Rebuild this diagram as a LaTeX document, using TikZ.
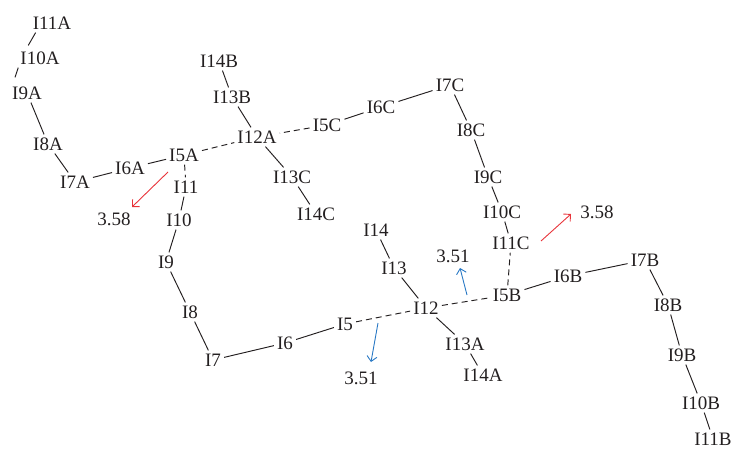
\documentclass[tikz,border=0pt]{standalone}
\usepackage{fontspec}
\setmainfont{Liberation Serif}
\usetikzlibrary{arrows.meta}
\definecolor{txt}{RGB}{35,31,32}
\definecolor{redarr}{RGB}{232,52,58}
\definecolor{bluearr}{RGB}{40,120,196}
\begin{document}
\begin{tikzpicture}[x=1pt,y=-1pt,
  lbl/.style={inner sep=3pt,text=txt,font=\fontsize{19}{22}\selectfont,text height=12.8pt,text depth=0pt},
  bond/.style={draw=txt,line width=0.95pt},
  dbond/.style={bond,dash pattern=on 6pt off 4pt},
  redarrow/.style={draw=redarr,line width=0.9pt,-{Straight Barb[length=5pt,width=10pt]}},
  bluearrow/.style={draw=bluearr,line width=0.9pt,-{Straight Barb[length=5pt,width=10pt]}}]
\useasboundingbox (0,0) rectangle (733,449);
% A branch
\node[lbl] (I11A) at (52,23) {I11A};
\node[lbl] (I10A) at (40,58) {I10A};
\node[lbl] (I9A) at (27,93) {I9A};
\node[lbl] (I8A) at (48,144) {I8A};
\node[lbl] (I7A) at (75,182) {I7A};
\node[lbl] (I6A) at (130,168) {I6A};
\node[lbl] (I5A) at (184,155) {I5A};
% main ring
\node[lbl] (I11) at (186,187) {I11};
\node[lbl] (I10) at (179,220) {I10};
\node[lbl] (I9) at (166,262) {I9};
\node[lbl] (I8) at (190,312) {I8};
\node[lbl] (I7) at (213,360) {I7};
\node[lbl] (I6) at (285,343) {I6};
\node[lbl] (I5) at (345,324) {I5};
\node[lbl] (I12) at (426,308) {I12};
\node[lbl] (I13) at (394,268) {I13};
\node[lbl] (I14) at (376,230) {I14};
\node[lbl] (I13A) at (465,344) {I13A};
\node[lbl] (I14A) at (483,375) {I14A};
% B branch
\node[lbl] (I5B) at (507,295) {I5B};
\node[lbl] (I6B) at (568,276) {I6B};
\node[lbl] (I7B) at (645,260) {I7B};
\node[lbl] (I8B) at (668,305) {I8B};
\node[lbl] (I9B) at (682,355) {I9B};
\node[lbl] (I10B) at (701,403) {I10B};
\node[lbl] (I11B) at (713,439) {I11B};
% C branch
\node[lbl] (I11C) at (511,243) {I11C};
\node[lbl] (I10C) at (502,212) {I10C};
\node[lbl] (I9C) at (488,177) {I9C};
\node[lbl] (I8C) at (471,130) {I8C};
\node[lbl] (I7C) at (450,85) {I7C};
\node[lbl] (I6C) at (381,107) {I6C};
\node[lbl] (I5C) at (327,125) {I5C};
\node[lbl] (I12A) at (257,137) {I12A};
\node[lbl] (I13B) at (232,97) {I13B};
\node[lbl] (I14B) at (219,61) {I14B};
\node[lbl] (I13C) at (292,177) {I13C};
\node[lbl] (I14C) at (316,214) {I14C};
% values
\node[lbl] (vL) at (114,219) {3.58};
\node[lbl] (vR) at (597,212) {3.58};
\node[lbl] (vU) at (453,256) {3.51};
\node[lbl] (vD) at (361,378) {3.51};
% bonds
\draw[bond] ([xshift=6pt]I11A.south west) -- ([xshift=11pt,yshift=3pt]I10A.north west);
\draw[bond] ([xshift=1pt]I10A.south west) -- ([xshift=6pt,yshift=6pt]I9A.north west);
\draw[bond] (I9A) -- (I8A);
\draw[bond] (I8A) -- (I7A);
\draw[bond] (I7A) -- (I6A);
\draw[bond] (I6A) -- (I5A);
\draw[dbond] (I5A) -- (I12A);
\draw[dbond] (I5A) -- (I11);
\draw[bond] (I11) -- (I10);
\draw[bond] (I10) -- (I9);
\draw[bond] (I9) -- (I8);
\draw[bond] (I8) -- (I7);
\draw[bond] (I7) -- (I6);
\draw[bond] (I6) -- (I5);
\draw[dbond] (I5) -- (I12);
\draw[bond] (I12) -- (I13);
\draw[bond] (I13) -- (I14);
\draw[bond] (I12) -- (I13A);
\draw[bond] (I13A) -- (I14A);
\draw[dbond] (I12) -- (I5B);
\draw[bond] (I5B) -- (I6B);
\draw[bond] (I6B) -- (I7B);
\draw[bond] (I7B) -- (I8B);
\draw[bond] (I8B) -- (I9B);
\draw[bond] (I9B) -- (I10B);
\draw[bond] (I10B) -- (I11B);
\draw[dbond] (I5B) -- (I11C);
\draw[bond] (I11C) -- (I10C);
\draw[bond] (I10C) -- (I9C);
\draw[bond] (I9C) -- (I8C);
\draw[bond] (I8C) -- (I7C);
\draw[bond] (I7C) -- (I6C);
\draw[bond] (I6C) -- (I5C);
\draw[dbond] (I5C) -- (I12A);
\draw[bond] (I12A) -- (I13B);
\draw[bond] (I13B) -- (I14B);
\draw[bond] (I12A) -- (I13C);
\draw[bond] (I13C) -- (I14C);
% arrows
\coordinate (rL1) at (168,172); \coordinate (rL2) at (132,207);
\coordinate (rR1) at (541,241); \coordinate (rR2) at (571,214);
\coordinate (bU1) at (467,295); \coordinate (bU2) at (460,268);
\coordinate (bD1) at (378,323); \coordinate (bD2) at (371,362);
\draw[redarrow] (rL1) -- (rL2);
\draw[redarrow] (rR1) -- (rR2);
\draw[bluearrow] (bU1) -- (bU2);
\draw[bluearrow] (bD1) -- (bD2);
\end{tikzpicture}
\end{document}
